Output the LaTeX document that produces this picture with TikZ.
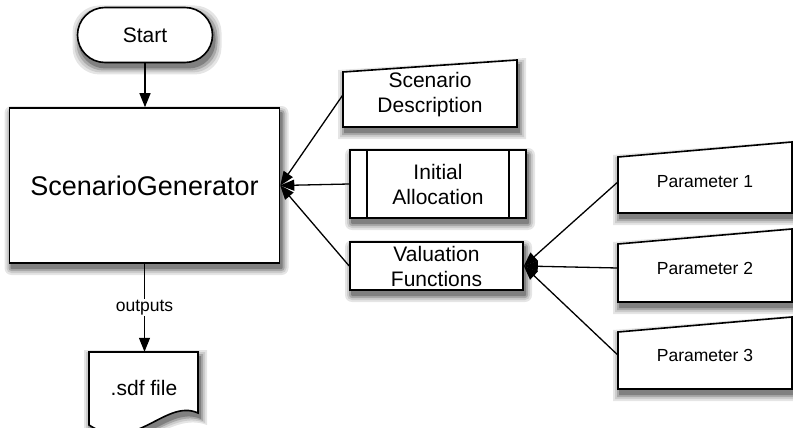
\documentclass[tikz,border=0pt]{standalone}
\usepackage{fontspec}
\setmainfont{Liberation Sans}
\usetikzlibrary{arrows.meta,calc}
% rectangle shadow: left, top, right, bottom (pixel values, y downwards)
\newcommand\rshad[4]{%
  \foreach \d/\c in {7/10,5/20,3/34,1/50}{%
    \fill[black!\c,rounded corners=\d pt] (#1+2-\d,-#2-5+\d) rectangle (#3+2+\d,-#4-5-\d);}}
% manual input shadow: left, top-left, right, top-right, bottom
\newcommand\mshad[5]{%
  \foreach \d/\c in {7/10,5/20,3/34,1/50}{%
    \fill[black!\c] (#1+2-\d,-#5-5-\d) -- (#1+2-\d,-#2-5+\d) -- (#3+2+\d,-#4-5+\d) -- (#3+2+\d,-#5-5-\d) -- cycle;}}
\tikzset{
  box/.style={draw=black,line width=1.6pt,fill=white,align=center},
  lbl/.style={font=\fontsize{21}{25}\selectfont,align=center,inner sep=1pt},
  plbl/.style={font=\fontsize{17.5}{21}\selectfont,inner sep=1pt},
  conn/.style={line width=1.3pt,-{Triangle[length=14pt,width=11pt]}},
}
\begin{document}
\begin{tikzpicture}[x=1pt,y=1pt]
\useasboundingbox (0,0) rectangle (793,-428);
% shadows
\foreach \d/\c in {7/10,5/20,3/34,1/50}{%
  \fill[black!\c,rounded corners=27pt] (79.5-\d,-12.5+\d) rectangle (214.5+\d,-67.5-\d);}
\rshad{9.5}{108}{279.5}{263}
\mshad{343}{72}{517}{60}{127}
\rshad{350}{150}{526}{218}
\rshad{350}{242}{523}{290}
\mshad{618}{157}{792}{142}{213}
\mshad{618}{244}{792}{229}{302}
\mshad{618}{332}{792}{317}{389}
\foreach \d/\c in {7/10,5/20,3/34,1/50}{%
  \fill[black!\c] (91-\d,-357+\d) -- (200+\d,-357+\d) -- (200+\d,-418-\d) .. controls (167,-403-\d) and (137,-460-\d) .. (91-\d,-430-\d) -- cycle;}
% start and generator
\node[box,lbl,rounded corners=27.5pt,minimum width=135pt,minimum height=55pt] (start) at (145,-35) {Start};
\node[box,font=\fontsize{27}{32}\selectfont,minimum width=270pt,minimum height=155pt] (gen) at (144.5,-185.5) {ScenarioGenerator};
% scenario description (manual input)
\path[box] (343,-127) -- (343,-72) -- (517,-60) -- (517,-127) -- cycle;
\node[lbl,minimum width=174pt,minimum height=55pt] (sd) at (430,-95) {Scenario\\Description};
% initial allocation (predefined process)
\node[box,lbl,minimum width=176pt,minimum height=68pt] (ia) at (438,-184) {Initial\\Allocation};
\draw[line width=1.6pt] ($(ia.north west)+(18,0)$) -- ($(ia.south west)+(18,0)$);
\draw[line width=1.6pt] ($(ia.north east)+(-18,0)$) -- ($(ia.south east)+(-18,0)$);
% valuation functions
\node[box,lbl,minimum width=173pt,minimum height=48pt] (vf) at (436.5,-266) {Valuation\\Functions};
% parameters (manual input)
\path[box] (618,-213) -- (618,-157) -- (792,-142) -- (792,-213) -- cycle;
\node[plbl,minimum width=174pt,minimum height=56pt] (p1) at (705,-182) {Parameter 1};
\path[box] (618,-302) -- (618,-244) -- (792,-229) -- (792,-302) -- cycle;
\node[plbl,minimum width=174pt,minimum height=58pt] (p2) at (705,-268) {Parameter 2};
\path[box] (618,-389) -- (618,-332) -- (792,-317) -- (792,-389) -- cycle;
\node[plbl,minimum width=174pt,minimum height=57pt] (p3) at (705,-355) {Parameter 3};
% sdf file (document)
\path[box] (89,-352) -- (198,-352) -- (198,-413) .. controls (165,-398) and (135,-455) .. (89,-425) -- cycle;
\node[lbl,minimum width=109pt,minimum height=72pt] (sdf) at (144,-388) {.sdf file};
% connectors
\draw[conn] (start.south) -- (start.south |- gen.north);
\draw[conn] (gen.south) -- node[plbl,fill=white] {outputs} (gen.south |- sdf.north);
\draw[conn] (sd.west) -- (gen.east);
\draw[conn] (ia.west) -- (gen.east);
\draw[conn] (vf.west) -- (gen.east);
\draw[conn] (p1.west) -- (vf.east);
\draw[conn] (p2.west) -- (vf.east);
\draw[conn] (p3.west) -- (vf.east);
\end{tikzpicture}
\end{document}
